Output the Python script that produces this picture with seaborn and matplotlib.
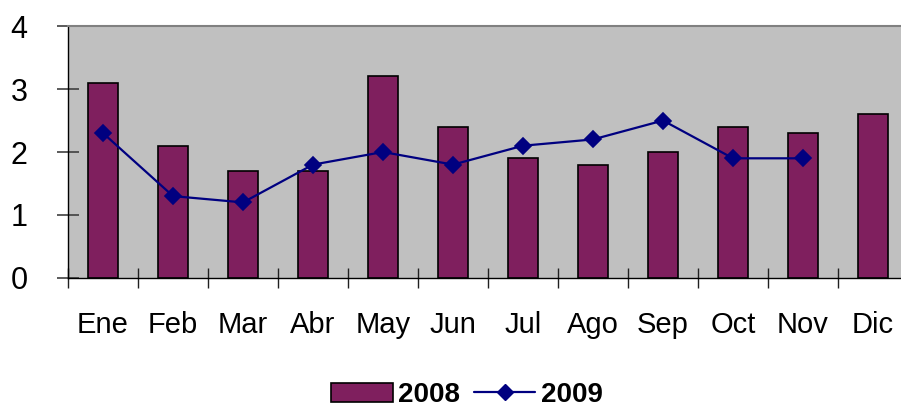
import numpy as np
import pandas as pd
import seaborn as sns
import matplotlib.pyplot as plt
from matplotlib.patches import Patch
from matplotlib.lines import Line2D
from matplotlib.ticker import FixedLocator

meses = ["Ene", "Feb", "Mar", "Abr", "May", "Jun", "Jul", "Ago", "Sep", "Oct", "Nov", "Dic"]
valores_2008 = [3.1, 2.1, 1.7, 1.7, 3.2, 2.4, 1.9, 1.8, 2.0, 2.4, 2.3, 2.6]
valores_2009 = [2.3, 1.3, 1.2, 1.8, 2.0, 1.8, 2.1, 2.2, 2.5, 1.9, 1.9, np.nan]
y_ticks = [0, 1, 2, 3, 4]

color_barra = "#7F1F5E"
color_linea = "#000080"

sns.set_style("white")
plt.rcParams["font.family"] = ["Liberation Sans", "DejaVu Sans"]
plt.rcParams["text.color"] = "black"
plt.rcParams["xtick.color"] = "black"
plt.rcParams["ytick.color"] = "black"

df08 = pd.DataFrame({"mes": meses, "valor": valores_2008})
df09 = pd.DataFrame({"mes": meses, "valor": valores_2009}).dropna()

fig = plt.figure(figsize=(9.01, 4.07), dpi=100)
ax = fig.add_axes([0.0755, 0.317, 0.9323, 0.619])
ax.set_facecolor("#C0C0C0")

sns.barplot(data=df08, x="mes", y="valor", order=meses, color=color_barra,
            saturation=1, width=0.43, edgecolor="black", linewidth=1.2, ax=ax)
sns.pointplot(data=df09, x="mes", y="valor", order=meses, color=color_linea,
              markers="D", linestyles="-", markersize=8.5, linewidth=1.6, ax=ax)

ax.set_xlim(-0.5, 11.5)
ax.set_ylim(0, 4)
ax.set_yticks(y_ticks)
ax.set_xlabel("")
ax.set_ylabel("")

for lado in ["left", "bottom"]:
    ax.spines[lado].set_color("black")
    ax.spines[lado].set_linewidth(1.0)
ax.spines["top"].set_color("#808080")
ax.spines["top"].set_linewidth(1.5)
ax.spines["right"].set_visible(False)

ax.tick_params(axis="y", left=True, direction="inout", length=16.5, width=1.2,
               color="#404040", labelcolor="black", labelsize=22, pad=21)
ax.tick_params(axis="x", which="major", bottom=True, length=0, labelcolor="black",
               labelsize=21, pad=24)
ax.xaxis.set_minor_locator(FixedLocator(np.arange(-0.5, 12, 1.0)))
ax.tick_params(axis="x", which="minor", bottom=True, direction="inout", length=14.5,
               width=1.0, color="#202020")

handles = [
    Patch(facecolor=color_barra, edgecolor="black", linewidth=1.2, label="2008"),
    Line2D([], [], color=color_linea, marker="D", markersize=8.5, linewidth=1.6, label="2009"),
]
fig.legend(handles=handles, loc="center", bbox_to_anchor=(467 / 901, 1 - 395 / 407),
           ncol=2, frameon=False, prop={"weight": "bold", "size": 20},
           handlelength=2.2, handletextpad=0.2, columnspacing=0.5,
           labelcolor="black")

fig.savefig("out.png", dpi=100)
